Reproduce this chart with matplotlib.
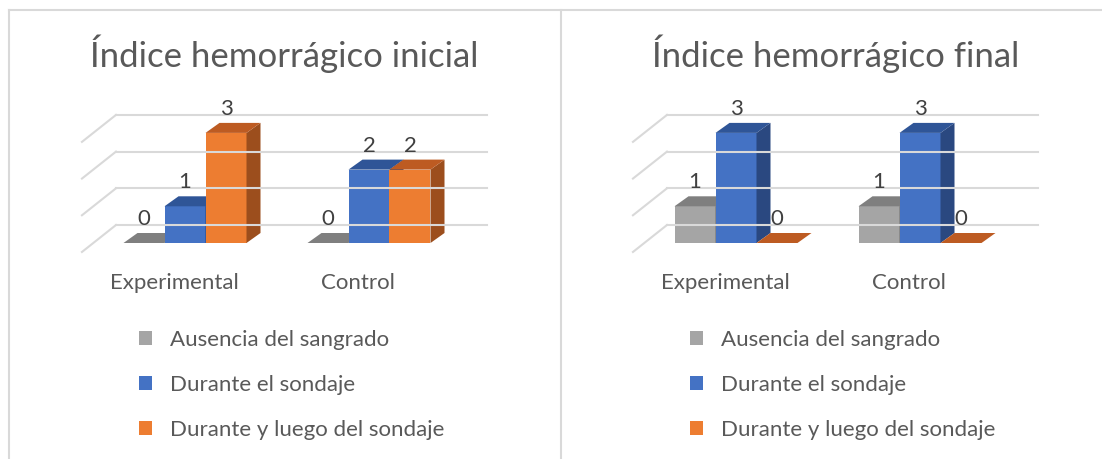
import matplotlib.pyplot as plt
from matplotlib.patches import Polygon, Patch
from matplotlib.lines import Line2D

plt.rcParams['font.family'] = ['Lato', 'DejaVu Sans']

# data
categories = ["Experimental", "Control"]
series_names = ["Ausencia del sangrado", "Durante el sondaje", "Durante y luego del sondaje"]
titles = ["Índice hemorrágico inicial", "Índice hemorrágico final"]
inicial_ausencia = [0, 0]
inicial_durante = [1, 2]
inicial_luego = [3, 2]
final_ausencia = [1, 1]
final_durante = [3, 3]
final_luego = [0, 0]
grid_values = [0, 1, 2, 3]

# colours: front, top, side
colors = [("#a5a5a5", "#7f7f7f", "#6f6f6f"),
          ("#4472c4", "#2f5597", "#2a4880"),
          ("#ed7d31", "#bd5b22", "#9c4e1d")]
grid_color = "#d9d9d9"
text_color = "#595959"

# geometry (data units: 1 = category step in x, 1 = one value unit in y)
PX_X, PX_Y = 184.0, 36.7
bar_w = 41 / PX_X
ddx, ddy = 14 / PX_X, 10 / PX_Y          # bar depth
wall_dy = 18 / PX_Y                      # back wall raise
wall_left, wall_right = -0.375, 1.641
side_dx, side_dy = -0.185, -0.735        # side wall toward front

W, H = 1102, 459
fig = plt.figure(figsize=(W / 100, H / 100), dpi=100)


def draw_bar(ax, xl, v, col):
    xr = xl + bar_w
    front, top, side = col
    if v > 0:
        ax.add_patch(Polygon([(xl, 0), (xr, 0), (xr, v), (xl, v)], closed=True,
                             fc=front, ec="none"))
        ax.add_patch(Polygon([(xr, 0), (xr + ddx, ddy), (xr + ddx, v + ddy), (xr, v)],
                             closed=True, fc=side, ec="none"))
    ax.add_patch(Polygon([(xl, v), (xr, v), (xr + ddx, v + ddy), (xl + ddx, v + ddy)],
                         closed=True, fc=top, ec="none"))
    ax.text(xl + bar_w / 2, v + 0.65, str(v), ha="center", va="center",
            fontsize=16, color="#404040")


def draw_panel(px_left, px_right, px_center, title, series):
    ax = fig.add_axes([px_left / W, 0, (px_right - px_left) / W, 1])
    ax.set_xlim((px_left - px_center) / PX_X, (px_right - px_center) / PX_X)
    ax.set_ylim((243 - H) / PX_Y, 243 / PX_Y)
    ax.axis("off")

    # back wall and side wall grid
    for g in grid_values:
        yb = g + wall_dy
        ax.plot([wall_left, wall_right], [yb, yb], color=grid_color, lw=1.5)
        ax.plot([wall_left, wall_left + side_dx], [yb, yb + side_dy], color=grid_color, lw=1.5)

    for ci, cat in enumerate(categories):
        for si, vals in enumerate(series):
            xl = ci + (si - 1) * bar_w - bar_w / 2
            draw_bar(ax, xl, vals[ci], colors[si])
        ax.text(ci - 0.06, -1.08, cat, ha="center", va="center", fontsize=16,
                color=text_color)

    ax.text(0.54, 5.15, title, ha="center", va="center", fontsize=25, color=text_color)

    handles = [Patch(fc=c[0], ec="none") for c in colors]
    ax.legend(handles, series_names, loc="upper left", bbox_to_anchor=(-0.31, -2.06),
              bbox_transform=ax.transData, frameon=False, fontsize=16,
              labelcolor=text_color, handlelength=0.59, handleheight=0.59,
              handletextpad=0.8, labelspacing=1.13, borderpad=0)


draw_panel(10, 561, 185, titles[0], [inicial_ausencia, inicial_durante, inicial_luego])
draw_panel(561, 1102, 736, titles[1], [final_ausencia, final_durante, final_luego])

# frame lines
fig.add_artist(Line2D([9 / W, 1], [1 - 10 / H, 1 - 10 / H], color=grid_color, lw=1.5))
fig.add_artist(Line2D([9 / W, 9 / W], [0, 1 - 10 / H], color=grid_color, lw=1.5))
fig.add_artist(Line2D([561 / W, 561 / W], [0, 1 - 10 / H], color=grid_color, lw=1.5))

fig.savefig("out.png", dpi=100)
